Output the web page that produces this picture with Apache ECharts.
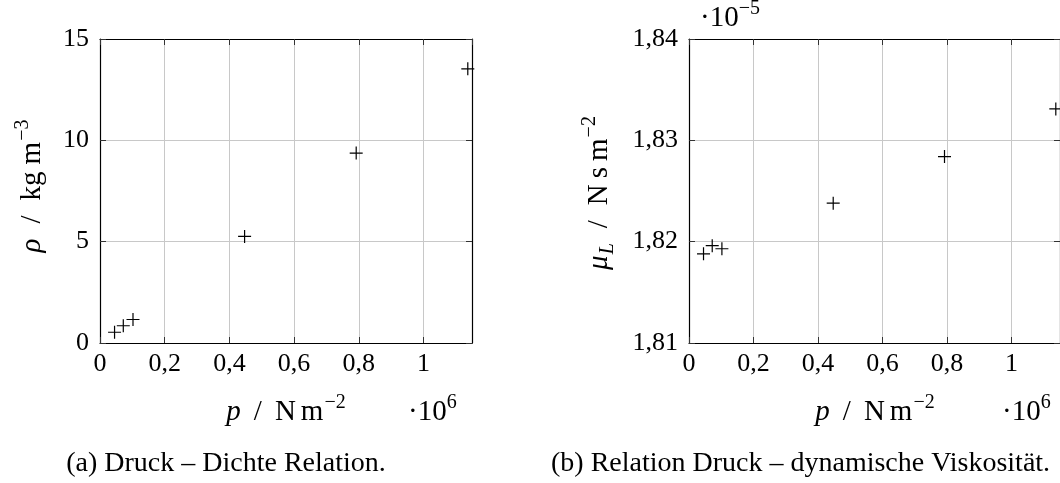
<!DOCTYPE html>
<html>
<head>
<meta charset="utf-8">
<script src="https://cdn.jsdelivr.net/npm/echarts@6/dist/echarts.min.js"></script>
<style>
  html, body { margin: 0; padding: 0; background: #fff; }
  #chart { width: 1060px; height: 483px; }
</style>
</head>
<body>
<div id="chart"></div>
<script>
// Pressure in units of 10^6 N m^-2 (shared by both panels)
const pressure = [0.045, 0.072, 0.102, 0.447, 0.792, 1.137];
// Density in kg m^-3
const density = [0.53, 0.85, 1.16, 5.26, 9.37, 13.53];
// Dynamic viscosity in units of 10^-5 N s m^-2
const viscosity = [1.8188, 1.8196, 1.8193, 1.8238, 1.8284, 1.8331];

// Tick labels
const pTicks = [0, 0.2, 0.4, 0.6, 0.8, 1];
const rhoTicks = [0, 5, 10, 15];
const muTicks = [1.81, 1.82, 1.83, 1.84];

const captions = ['(a) Druck – Dichte Relation.', '(b) Relation Druck – dynamische Viskosität.'];

const SERIF = '"Liberation Serif", "Times New Roman", serif';
const TICK_SIZE = 26, TITLE_SIZE = 29, SCRIPT_SIZE = 20, CAPTION_SIZE = 28;

function fmtComma(v, digits) {
  return (digits == null ? String(+v.toFixed(3)) : v.toFixed(digits)).replace('.', ',');
}
function tickFormatter(ticks, digits) {
  return function (v) {
    const hit = ticks.find(t => Math.abs(t - v) < 1e-6);
    return hit == null ? '' : fmtComma(hit, digits);
  };
}

// Width measurement for laying out mixed-style labels
const measureCtx = document.createElement('canvas').getContext('2d');
function textWidth(text, font) { measureCtx.font = font; return measureCtx.measureText(text).width; }

// Builds a label from pieces: [text, kind] or a number (extra gap in px).
// kinds: 'i' italic, 'r' roman, 'sup' roman superscript, 'sub' italic subscript
function mathLabel(parts, x, y, opts) {
  opts = opts || {};
  const children = [];
  let cur = 0;
  const items = [];
  parts.forEach(p => {
    if (typeof p === 'number') { cur += p; return; }
    const [t, kind] = p;
    const script = kind === 'sup' || kind === 'sub';
    const size = script ? SCRIPT_SIZE : (opts.size || TITLE_SIZE);
    const italic = kind === 'i' || kind === 'sub';
    const font = (italic ? 'italic ' : '') + size + 'px ' + SERIF;
    const shift = kind === 'sup' ? -13 : (kind === 'sub' ? 5 : 0);
    const w = textWidth(t, font);
    items.push({ t, font, x: cur, base: shift, size });
    cur += w;
  });
  const start = opts.align === 'left' ? 0 : -cur / 2;
  items.forEach(it => {
    children.push({
      type: 'text',
      x: start + it.x,
      y: it.base - 0.3375 * it.size,
      style: { text: it.t, font: it.font, fill: '#000', textAlign: 'left', verticalAlign: 'middle', textVerticalAlign: 'middle' }
    });
  });
  return { type: 'group', x, y, rotation: opts.rotation || 0, children };
}

const frameLine = { show: true, onZero: false, lineStyle: { color: '#000', width: 1.2 } };
const innerTick = { show: true, inside: true, length: 6, lineStyle: { color: '#333', width: 1 } };
const gridLine = { show: true, lineStyle: { color: '#c8c8c8', width: 1 } };
const tickFont = { fontFamily: SERIF, fontSize: TICK_SIZE, color: '#000' };

function xAxes(gridIndex) {
  return [
    {
      type: 'value', gridIndex, position: 'bottom', min: 0, max: 1.15, interval: 0.2,
      axisLine: frameLine, axisTick: innerTick, splitLine: gridLine,
      axisLabel: Object.assign({ margin: 8, formatter: tickFormatter(pTicks, null), showMaxLabel: false }, tickFont)
    },
    {
      type: 'value', gridIndex, position: 'top', min: 0, max: 1.15, interval: 0.2,
      axisLine: frameLine, axisTick: innerTick, splitLine: { show: false }, axisLabel: { show: false }
    }
  ];
}
function yAxes(gridIndex, min, max, interval, ticks, digits) {
  return [
    {
      type: 'value', gridIndex, position: 'left', min, max, interval,
      axisLine: frameLine, axisTick: innerTick, splitLine: gridLine,
      axisLabel: Object.assign({ margin: 11, formatter: tickFormatter(ticks, digits) }, tickFont)
    },
    {
      type: 'value', gridIndex, position: 'right', min, max, interval,
      axisLine: frameLine, axisTick: innerTick, splitLine: { show: false }, axisLabel: { show: false }
    }
  ];
}

const plusSymbol = 'path://M0,6L12,6M6,0L6,12';
function plusSeries(xIdx, yIdx, ys) {
  return {
    type: 'scatter', xAxisIndex: xIdx, yAxisIndex: yIdx,
    data: pressure.map((p, i) => [p, ys[i]]),
    symbol: plusSymbol, symbolSize: 13,
    itemStyle: { color: 'transparent', borderColor: '#000', borderWidth: 1.2, opacity: 1 },
    emphasis: { disabled: true }, silent: true, z: 5
  };
}

const chart = echarts.init(document.getElementById('chart'), null, { renderer: 'canvas' });
chart.setOption({
  animation: false,
  backgroundColor: '#fff',
  grid: [
    { left: 100, top: 39, width: 372, height: 304 },
    { left: 689, top: 39, width: 372, height: 304 }
  ],
  xAxis: [...xAxes(0), ...xAxes(1)],
  yAxis: [...yAxes(0, 0, 15, 5, rhoTicks, null), ...yAxes(1, 1.81, 1.84, 0.01, muTicks, 2)],
  series: [plusSeries(0, 0, density), plusSeries(2, 2, viscosity)],
  graphic: { elements: [
    // axis titles, panel (a)
    mathLabel([['p', 'i'], 13, ['/', 'r'], 13, ['N', 'r'], 5, ['m', 'r'], 1, ['−2', 'sup']], 286, 422),
    mathLabel([['·10', 'r'], ['6', 'sup']], 408, 422, { align: 'left' }),
    mathLabel([['ρ', 'i'], 15, ['/', 'r'], 15, ['kg', 'r'], 7, ['m', 'r'], 1, ['−3', 'sup']], 42, 186, { rotation: Math.PI / 2 }),
    // axis titles, panel (b)
    mathLabel([['p', 'i'], 13, ['/', 'r'], 13, ['N', 'r'], 5, ['m', 'r'], 1, ['−2', 'sup']], 875, 422),
    mathLabel([['·10', 'r'], ['6', 'sup']], 1002, 422, { align: 'left' }),
    mathLabel([['·10', 'r'], ['−5', 'sup']], 700, 28, { align: 'left' }),
    mathLabel([['μ', 'i'], 1, ['L', 'sub'], 15, ['/', 'r'], 15, ['N', 'r'], 6, ['s', 'r'], 6, ['m', 'r'], 1, ['−2', 'sup']], 609, 193, { rotation: Math.PI / 2 }),
    // captions
    mathLabel([[captions[0], 'r']], 226, 473, { size: CAPTION_SIZE }),
    mathLabel([[captions[1], 'r']], 551, 473, { size: CAPTION_SIZE, align: 'left' })
  ] }
});
</script>
</body>
</html>
